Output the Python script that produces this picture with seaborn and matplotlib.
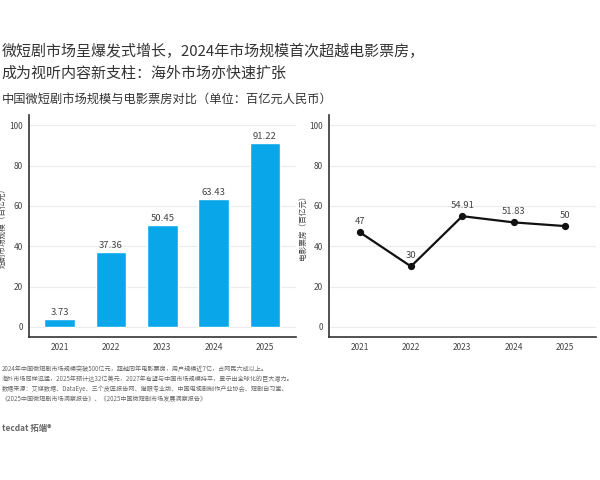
import numpy as np
import pandas as pd
import matplotlib
matplotlib.use("Agg")
import matplotlib.pyplot as plt
import seaborn as sns

# data
years = ["2021", "2022", "2023", "2024", "2025"]
drama_market = [3.73, 37.36, 50.45, 63.43, 91.22]   # 短剧市场规模
box_office = [47, 30, 54.91, 51.83, 50]             # 电影票房
box_labels = ["47", "30", "54.91", "51.83", "50"]
yticks = [0, 20, 40, 60, 80, 100]

title_lines = "微短剧市场呈爆发式增长，2024年市场规模首次超越电影票房，\n成为视听内容新支柱：海外市场亦快速扩张"
subtitle = "中国微短剧市场规模与电影票房对比（单位：百亿元人民币）"
notes = [
    "2024年中国微短剧市场规模突破500亿元，超越同年电影票房，用户规模近7亿，占网民六成以上。",
    "海外市场同样迅猛，2025年预计达32亿美元，2027年有望与中国市场规模持平，显示出全球化的巨大潜力。",
    "数据来源：艾媒数据、DataEye、三个皮匠报告网、猫眼专业版、中国电视剧制作产业协会、短剧自习室、",
    "《2025中国微短剧市场洞察报告》、《2025中国微短剧市场发展洞察报告》",
]

df = pd.DataFrame({"year": years, "drama": drama_market, "box": box_office})

sns.set_theme(style="white")
plt.rcParams["font.family"] = ["Noto Sans CJK SC", "DejaVu Sans"]

fig = plt.figure(figsize=(6, 4.8), dpi=100)
ax1 = fig.add_axes([0.048, 0.298, 0.445, 0.462])
ax2 = fig.add_axes([0.548, 0.298, 0.445, 0.462])

def style_axis(ax, ylabel):
    ax.set_ylim(-5, 105)
    ax.set_xlim(-0.6, 4.6)
    ax.set_yticks(yticks)
    ax.yaxis.grid(True, color="#ececec", linewidth=0.8)
    ax.set_axisbelow(True)
    for s in ["top", "right"]:
        ax.spines[s].set_visible(False)
    for s in ["left", "bottom"]:
        ax.spines[s].set_color("#333333")
        ax.spines[s].set_linewidth(1.2)
    ax.tick_params(axis="both", labelsize=6, colors="#444444", length=0, pad=4)
    ax.set_xlabel("")
    ax.set_ylabel(ylabel, fontsize=5.5, color="#444444", labelpad=2)

# left: bars
sns.barplot(data=df, x="year", y="drama", color="#0aa6ea", saturation=1,
            width=0.6, ax=ax1)
style_axis(ax1, "短剧市场规模（百亿元）")
for i, v in enumerate(drama_market):
    ax1.text(i, v + 1, f"{v:.2f}", ha="center", va="bottom", fontsize=6.8, color="#444444")

# right: line
sns.pointplot(data=df, x="year", y="box", color="#111111", linewidth=1.6,
              markersize=4, ax=ax2)
style_axis(ax2, "电影票房（百亿元）")
for i, (v, lab) in enumerate(zip(box_office, box_labels)):
    ax2.text(i, v + 3, lab, ha="center", va="bottom", fontsize=6.8, color="#444444")

# titles and notes
fig.text(0.003, 0.87, title_lines, fontsize=10.8, color="#333333", va="center",
         linespacing=1.6)
fig.text(0.003, 0.792, subtitle, fontsize=8.8, color="#333333", va="center")
for k, line in enumerate(notes):
    fig.text(0.003, 0.232 - k * 0.021, line, fontsize=4.4, color="#666666", va="center")
fig.text(0.003, 0.108, "tecdat 拓端®", fontsize=6, color="#666666", va="center",
         fontweight="bold")

fig.savefig("out.png", dpi=100, facecolor="white")
